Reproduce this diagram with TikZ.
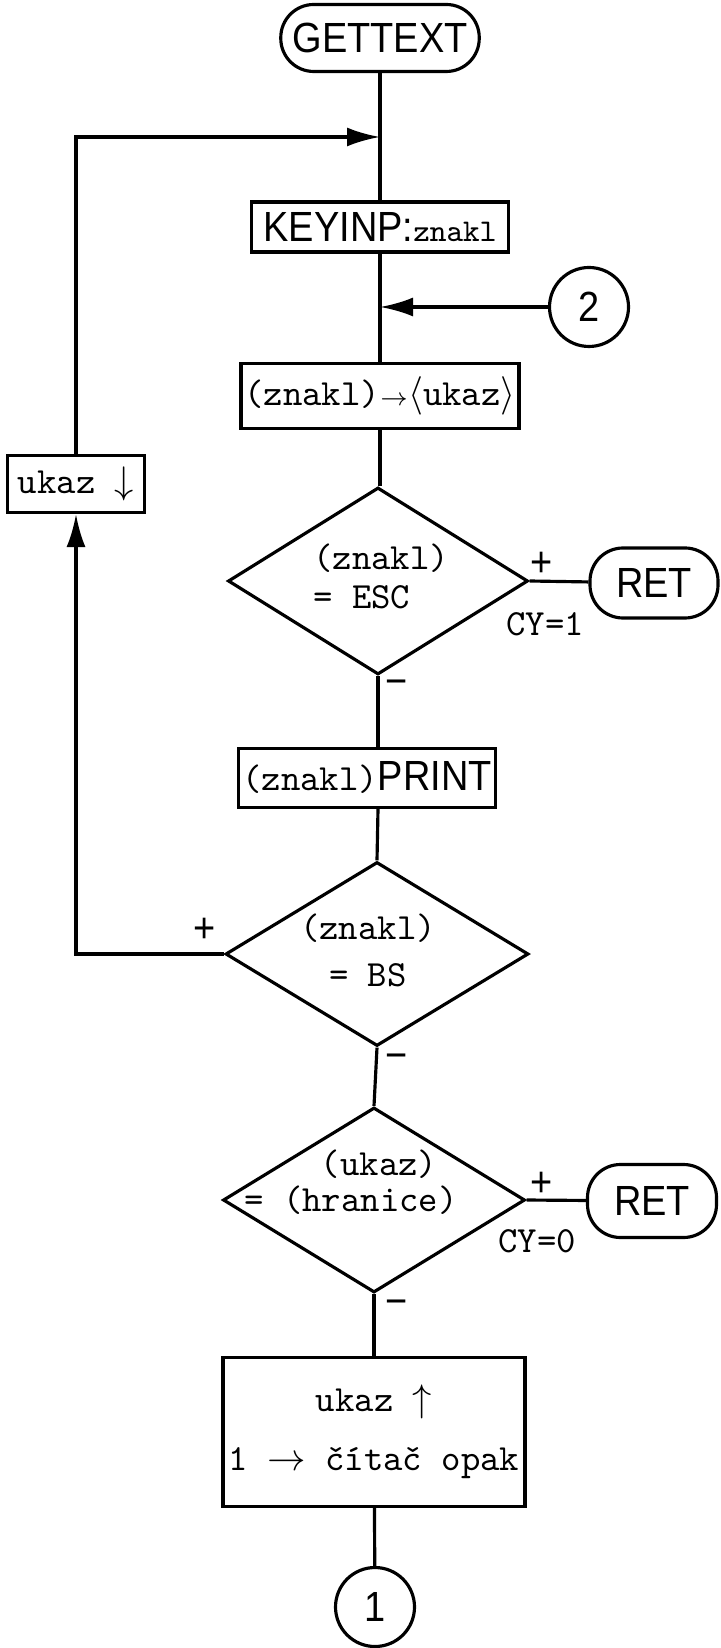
\documentclass[tikz,border=0pt]{standalone}
\usepackage{fontspec}
\usepackage{tikz}
\usetikzlibrary{shapes.geometric,arrows.meta}
\newfontfamily\dinfont[FakeStretch=0.9]{Liberation Sans}
\newcommand{\dintxt}{\dinfont\fontsize{12}{14}\selectfont}
\newcommand{\ttxt}{\ttfamily\addfontfeatures{FakeBold=1.2}\fontsize{10.5}{10.5}\selectfont}
\tikzset{
  box/.style={draw, rectangle, line width=0.9pt, inner sep=1pt},
  term/.style={draw, rectangle, rounded corners=3.3mm, line width=0.9pt, font=\dintxt},
  decision/.style={draw, diamond, line width=0.9pt, inner sep=0pt},
  conn/.style={draw, circle, line width=0.9pt, minimum size=7.9mm, inner sep=0pt, font=\dintxt},
  flow/.style={line width=0.9pt},
  arr/.style={flow, -{Latex[length=3.3mm,width=1.9mm]}},
}

\begin{document}
\begin{tikzpicture}[x=0.1mm, y=-0.1mm]
    \useasboundingbox (0,0) rectangle (720,1648);

    \node[term, minimum width=19.1mm, minimum height=6.7mm] (start) at (380,38) {GETTEXT};
    \node[box, minimum width=25.7mm, minimum height=5.0mm] (keyinp) at (380,227) {\dintxt KEYINP:\ttxt\small znakl};
    \node[conn] (c2) at (589,307) {2};
    \node[box, minimum width=25.7mm, minimum height=6.5mm, font=\ttxt] (load) at (380,396) {(znakl)$\scriptstyle\rightarrow$$\langle$ukaz$\rangle$};
    \node[box, minimum width=13.7mm, minimum height=5.7mm, font=\ttxt] (dec) at (76,484) {ukaz $\downarrow$};
    \node[decision, minimum width=30mm, minimum height=18.7mm] (esc) at (378,581) {};
    \node[term, minimum width=12.8mm, minimum height=7.0mm] (ret1) at (654,583) {RET};
    \node[box, minimum width=25.4mm, minimum height=5.9mm] (print) at (367,778) {\ttxt(znakl)\dintxt PRINT};
    \node[decision, minimum width=30.3mm, minimum height=18.4mm] (bs) at (377,954) {};
    \node[decision, minimum width=30.2mm, minimum height=18.5mm] (hr) at (374,1200) {};
    \node[term, minimum width=12.9mm, minimum height=7.3mm] (ret2) at (652,1201) {RET};
    \node[box, minimum width=30.2mm, minimum height=14.9mm, font=\ttxt, align=center] (inc) at (374,1432) {ukaz $\uparrow$\\[2.2mm]1 $\rightarrow$ čítač opak};
    \node[conn] (c1) at (375,1607) {1};

    % texts in the decisions
    \node[font=\ttxt, align=left, anchor=west] (escTxt) at (301,576) {(znakl)\\[0.2mm]= ESC};
    \node[font=\ttxt, align=center] (bsTxt) at (368,950) {(znakl)\\[1mm]= BS};
    \node[font=\ttxt] (hrTop) at (379,1164) {(ukaz)};
    \node[font=\ttxt] (hrBot) at (351,1200) {= (hranice)};

    % branch labels
    \node[font=\dintxt] (plusA) at (542,564) {+};
    \node[font=\ttxt] (cyA) at (545,624) {CY=1};
    \node[font=\dintxt] (minusA) at (397,688) {−};
    \node[font=\dintxt] (plusB) at (205,930) {+};
    \node[font=\dintxt] (minusB) at (397,1062) {−};
    \node[font=\dintxt] (plusC) at (542,1184) {+};
    \node[font=\ttxt] (cyC) at (537,1241) {CY=0};
    \node[font=\dintxt] (minusC) at (397,1308) {−};

    \coordinate (j1) at (380,137);
    \coordinate (j2) at (380,307);

    \draw[flow] (start) -- (keyinp);
    \draw[flow] (keyinp) -- (load);
    \draw[flow] (load.south) -- (load.south |- esc.north);
    \draw[arr] (c2) -- (j2);
    \draw[arr] (dec.north) |- (j1);
    \draw[flow] (esc.east) -- (ret1);
    \draw[flow] (esc.south) -- (esc.south |- print.north);
    \draw[flow] (esc.south |- print.south) -- (bs.north);
    \draw[arr] (bs.west) -| (dec.south);
    \draw[flow] (bs.south) -- (hr.north);
    \draw[flow] (hr.east) -- (ret2);
    \draw[flow] (hr.south) -- (inc.north);
    \draw[flow] (inc) -- (c1);
\end{tikzpicture}
\end{document}
